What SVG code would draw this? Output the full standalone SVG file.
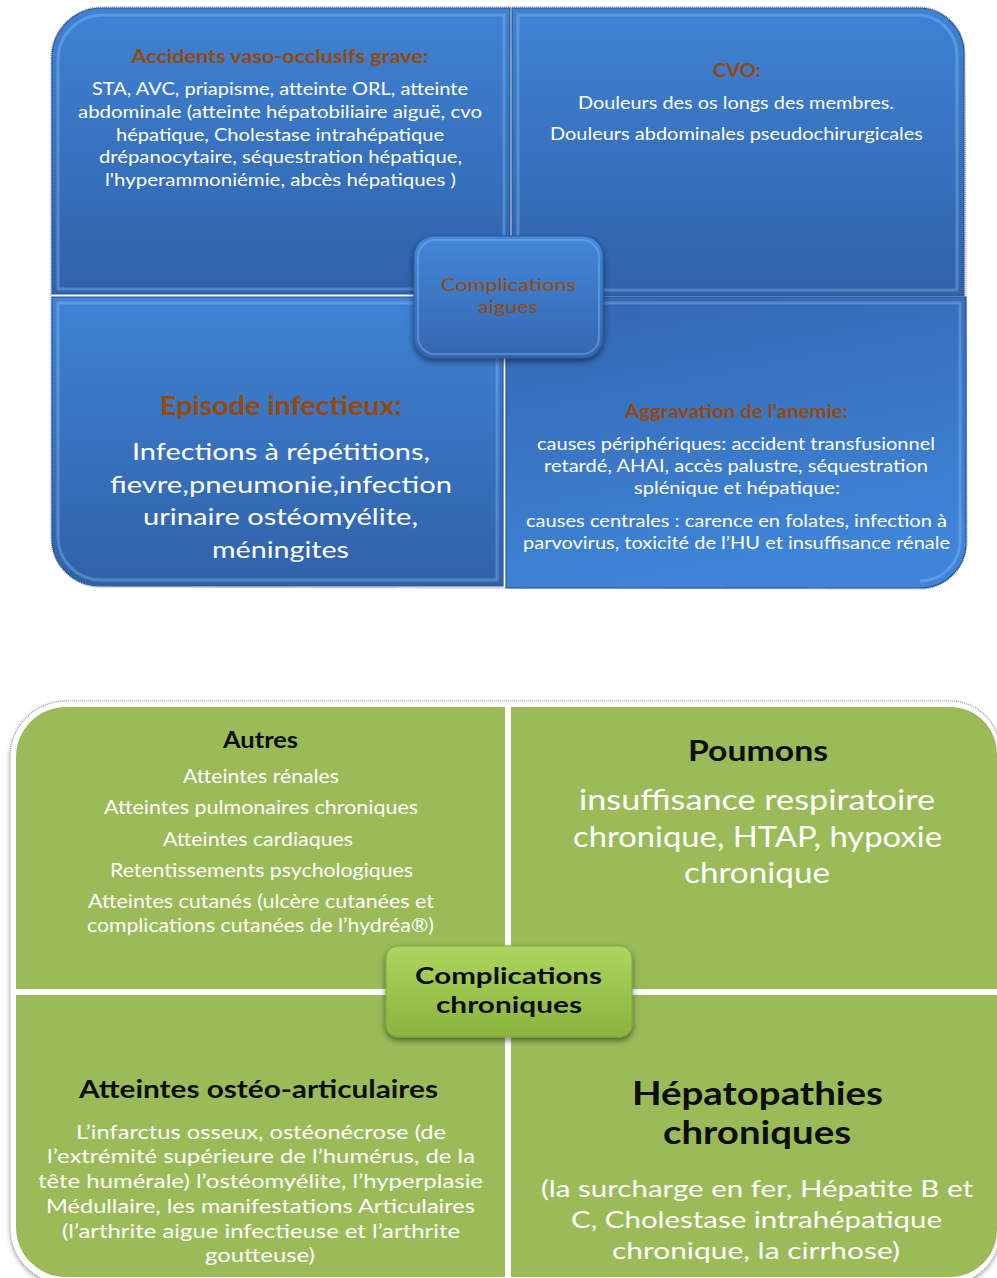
<svg xmlns="http://www.w3.org/2000/svg" width="997" height="1278" viewBox="0 0 997 1278">
<defs>
<linearGradient id="gBlue" x1="0" y1="0" x2="0" y2="1">
<stop offset="0" stop-color="#3f82d4"/><stop offset="1" stop-color="#3062a9"/>
</linearGradient>
<linearGradient id="gBlueR" x1="0" y1="0" x2="0.3" y2="1">
<stop offset="0" stop-color="#3366b0"/><stop offset="1" stop-color="#3f84d8"/>
</linearGradient>
<linearGradient id="gBlueC" x1="0" y1="0" x2="0" y2="1">
<stop offset="0" stop-color="#4387d8"/><stop offset="1" stop-color="#3566b0"/>
</linearGradient>
<linearGradient id="gGreenC" x1="0" y1="0" x2="0" y2="1">
<stop offset="0" stop-color="#acd65e"/><stop offset="1" stop-color="#8bb33e"/>
</linearGradient>
<filter id="sh" x="-20%" y="-20%" width="140%" height="150%">
<feDropShadow dx="0" dy="3" stdDeviation="3" flood-color="#000" flood-opacity="0.5"/>
</filter>
<filter id="shT" x="-10%" y="-10%" width="120%" height="120%">
<feDropShadow dx="0" dy="2" stdDeviation="2" flood-color="#000" flood-opacity="0.3"/>
</filter>
</defs>
<style>
.q{stroke:#2a5594;stroke-width:1.2}
.hl{fill:none;stroke:#8fc6f8;stroke-width:3;stroke-opacity:0.35}
.g{fill:#9bbb59}
text{font-family:Lato,"Liberation Sans",sans-serif;text-anchor:middle}
.br{fill:#984807;font-weight:bold}
.w{fill:#ffffff}
.k{fill:#0d0d0d;font-weight:bold}
</style>
<rect width="997" height="1278" fill="#ffffff"/>

<!-- TOP DIAGRAM -->
<path d="M51,58 A51,51 0 0 1 102,7 L918,7 A47,47 0 0 1 965,54 L967,542 A47,47 0 0 1 920,589 L100,587 A49,49 0 0 1 51,538 Z" fill="none" stroke="#8a8a8a" stroke-width="1.2" stroke-dasharray="1 1"/>

<g id="top-tl">
<path class="q" d="M52,58 A50,50 0 0 1 102,8 L510,8 L510,294 L52,294 Z" fill="url(#gBlue)"/>
<path class="hl" d="M58,60 A45,45 0 0 1 103,15 L504,15 L504,289 L58,289 Z"/>
<text class="br" x="280" y="63" font-size="19" textLength="297" lengthAdjust="spacingAndGlyphs">Accidents vaso-occlusifs grave:</text>
<g class="w" font-size="18">
<text x="280" y="95" textLength="376" lengthAdjust="spacingAndGlyphs">STA, AVC, priapisme, atteinte ORL, atteinte</text>
<text x="280" y="118" textLength="404" lengthAdjust="spacingAndGlyphs">abdominale (atteinte hépatobiliaire aiguë, cvo</text>
<text x="280" y="141" textLength="328" lengthAdjust="spacingAndGlyphs">hépatique, Cholestase intrahépatique</text>
<text x="280.5" y="163" textLength="363" lengthAdjust="spacingAndGlyphs">drépanocytaire, séquestration hépatique,</text>
<text x="280.5" y="186" textLength="351" lengthAdjust="spacingAndGlyphs">l'hyperammoniémie, abcès hépatiques )</text>
</g>
</g>

<g id="top-tr">
<path class="q" d="M512,8 L918,8 A46,46 0 0 1 964,54 L964,296 L512,296 Z" fill="url(#gBlue)"/>
<path class="hl" d="M518,15 L916,15 A40,40 0 0 1 957,55 L957,290 L518,290 Z"/>
<text class="br" x="737" y="77" font-size="19" textLength="48" lengthAdjust="spacingAndGlyphs">CVO:</text>
<g class="w" font-size="18">
<text x="736" y="109" textLength="316" lengthAdjust="spacingAndGlyphs">Douleurs des os longs des membres.</text>
<text x="736.5" y="140" textLength="373" lengthAdjust="spacingAndGlyphs">Douleurs abdominales pseudochirurgicales</text>
</g>
</g>

<g id="top-bl">
<path class="q" d="M52,297 L503,297 L503,586 L100,586 A48,48 0 0 1 52,538 Z" fill="url(#gBlue)"/>
<path class="hl" d="M58,303 L497,303 L497,580 L101,580 A43,43 0 0 1 58,537 Z"/>
<text class="br" x="281" y="415" font-size="26" textLength="242" lengthAdjust="spacingAndGlyphs">Episode infectieux:</text>
<g class="w" font-size="24">
<text x="281" y="460" textLength="298" lengthAdjust="spacingAndGlyphs">Infections à répétitions,</text>
<text x="281" y="493" textLength="342" lengthAdjust="spacingAndGlyphs">fievre,pneumonie,infection</text>
<text x="280.5" y="525" textLength="275" lengthAdjust="spacingAndGlyphs">urinaire ostéomyélite,</text>
<text x="280.5" y="558" textLength="137" lengthAdjust="spacingAndGlyphs">méningites</text>
</g>
</g>

<g id="top-br">
<path class="q" d="M506,297 L966,297 L966,542 A46,46 0 0 1 920,588 L506,588 Z" fill="url(#gBlueR)"/>
<path class="hl" d="M512,303 L960,303 L960,541 A40,40 0 0 1 920,581"/>
<text class="br" x="736.5" y="418" font-size="18" textLength="223" lengthAdjust="spacingAndGlyphs">Aggravation de l'anemie:</text>
<g class="w" font-size="16.5">
<text x="736" y="450" textLength="398" lengthAdjust="spacingAndGlyphs">causes périphériques: accident transfusionnel</text>
<text x="736" y="472" textLength="384" lengthAdjust="spacingAndGlyphs">retardé, AHAI, accès palustre, séquestration</text>
<text x="737" y="494" textLength="206" lengthAdjust="spacingAndGlyphs">splénique et hépatique:</text>
<text x="736.5" y="527" textLength="421" lengthAdjust="spacingAndGlyphs">causes centrales : carence en folates, infection à</text>
<text x="736.5" y="549" textLength="427" lengthAdjust="spacingAndGlyphs">parvovirus, toxicité de l’HU et insuffisance rénale</text>
</g>
</g>

<g id="top-center">
<rect x="414" y="236" width="189" height="122" rx="20" fill="url(#gBlueC)" stroke="#2d5b9c" stroke-width="1" filter="url(#sh)"/>
<rect x="418" y="240" width="181" height="114" rx="17" fill="none" stroke="#8fc6f8" stroke-width="2" stroke-opacity="0.35"/>
<g fill="#984807" font-size="18">
<text x="508.5" y="291" textLength="135" lengthAdjust="spacingAndGlyphs">Complications</text>
<text x="508" y="313" textLength="60" lengthAdjust="spacingAndGlyphs">aigues</text>
</g>
</g>

<!-- BOTTOM DIAGRAM -->
<path d="M10,757 A56,56 0 0 1 66,701 L950,701 A50,50 0 0 1 1000,751 L1000,1232 A52,52 0 0 1 948,1284 L66,1284 A56,56 0 0 1 10,1228 Z" fill="#ffffff" stroke="#9a9a9a" stroke-width="1.2" stroke-dasharray="1 1" filter="url(#shT)"/>

<g id="bot-tl">
<path class="g" d="M16,757 A50,50 0 0 1 66,707 L505,707 L505,989 L16,989 Z"/>
<text class="k" x="260.5" y="748" font-size="22" textLength="75" lengthAdjust="spacingAndGlyphs">Autres</text>
<g class="w" font-size="19">
<text x="261" y="783" textLength="156" lengthAdjust="spacingAndGlyphs">Atteintes rénales</text>
<text x="261" y="814" textLength="314" lengthAdjust="spacingAndGlyphs">Atteintes pulmonaires chroniques</text>
<text x="258" y="846" textLength="190" lengthAdjust="spacingAndGlyphs">Atteintes cardiaques</text>
<text x="261.5" y="877" textLength="303" lengthAdjust="spacingAndGlyphs">Retentissements psychologiques</text>
<text x="261" y="908" textLength="346" lengthAdjust="spacingAndGlyphs">Atteintes cutanés (ulcère cutanées et</text>
<text x="260.5" y="932" textLength="347" lengthAdjust="spacingAndGlyphs">complications cutanées de l’hydréa®)</text>
</g>
</g>

<g id="bot-tr">
<path class="g" d="M511,707 L950,707 A47,47 0 0 1 997,754 L997,989 L511,989 Z"/>
<text class="k" x="758" y="761" font-size="29" textLength="140" lengthAdjust="spacingAndGlyphs">Poumons</text>
<g class="w" font-size="28">
<text x="757" y="810" textLength="356" lengthAdjust="spacingAndGlyphs">insuffisance respiratoire</text>
<text x="757.5" y="847" textLength="369" lengthAdjust="spacingAndGlyphs">chronique, HTAP, hypoxie</text>
<text x="757" y="883" textLength="146" lengthAdjust="spacingAndGlyphs">chronique</text>
</g>
</g>

<g id="bot-bl">
<path class="g" d="M16,995 L505,995 L505,1277 L66,1277 A50,50 0 0 1 16,1227 Z"/>
<text class="k" x="258.5" y="1098" font-size="25" textLength="359" lengthAdjust="spacingAndGlyphs">Atteintes ostéo-articulaires</text>
<g class="w" font-size="19.5">
<text x="261" y="1139" textLength="370" lengthAdjust="spacingAndGlyphs">L’infarctus osseux, ostéonécrose (de</text>
<text x="261" y="1163" textLength="428" lengthAdjust="spacingAndGlyphs">l’extrémité supérieure de l’humérus, de la</text>
<text x="260.5" y="1188" textLength="445" lengthAdjust="spacingAndGlyphs">tête humérale) l’ostéomyélite, l’hyperplasie</text>
<text x="260.5" y="1213" textLength="429" lengthAdjust="spacingAndGlyphs">Médullaire, les manifestations Articulaires</text>
<text x="261" y="1238" textLength="398" lengthAdjust="spacingAndGlyphs">(l’arthrite aigue infectieuse et l’arthrite</text>
<text x="260" y="1262" textLength="110" lengthAdjust="spacingAndGlyphs">goutteuse)</text>
</g>
</g>

<g id="bot-br">
<path class="g" d="M511,995 L997,995 L997,1230 A47,47 0 0 1 950,1277 L511,1277 Z"/>
<g class="k" font-size="32">
<text x="757.5" y="1105" textLength="251" lengthAdjust="spacingAndGlyphs">Hépatopathies</text>
<text x="757" y="1144" textLength="188" lengthAdjust="spacingAndGlyphs">chroniques</text>
</g>
<g class="w" font-size="24">
<text x="757" y="1197" textLength="432" lengthAdjust="spacingAndGlyphs">(la surcharge en fer, Hépatite B et</text>
<text x="756.5" y="1228" textLength="371" lengthAdjust="spacingAndGlyphs">C, Cholestase intrahépatique</text>
<text x="756" y="1259" textLength="288" lengthAdjust="spacingAndGlyphs">chronique, la cirrhose)</text>
</g>
</g>

<g id="bot-center">
<rect x="386" y="946" width="246" height="91" rx="12" fill="url(#gGreenC)" stroke="#82a53c" stroke-width="1" filter="url(#sh)"/>
<g class="k" font-size="22">
<text x="508.5" y="984" textLength="187" lengthAdjust="spacingAndGlyphs">Complications</text>
<text x="509" y="1013" textLength="146" lengthAdjust="spacingAndGlyphs">chroniques</text>
</g>
</g>
</svg>
